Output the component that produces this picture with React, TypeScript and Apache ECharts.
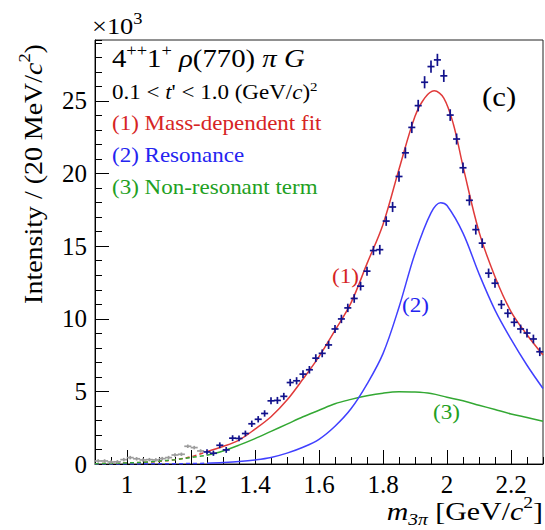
import React, { useEffect, useRef } from "react";
import * as echarts from "echarts";

// ---------- data (intensity in units of 10^3 per 20 MeV/c^2) ----------
const grayX = [0.91, 0.93, 0.95, 0.97, 0.99, 1.01, 1.03, 1.05, 1.07, 1.09, 1.11, 1.13, 1.15, 1.17, 1.19, 1.21, 1.23];
const grayY = [0.21, 0.21, 0.14, 0.15, 0.3, 0.44, 0.36, 0.28, 0.3, 0.28, 0.37, 0.44, 0.62, 0.67, 1.22, 1.13, 0.9];
const grayErr = [0.12, 0.12, 0.12, 0.12, 0.12, 0.12, 0.12, 0.12, 0.12, 0.12, 0.12, 0.12, 0.12, 0.12, 0.12, 0.12, 0.12];

const ptX = [
  1.25, 1.27, 1.29, 1.31, 1.33, 1.35, 1.37, 1.39, 1.41, 1.43, 1.45, 1.47, 1.49,
  1.51, 1.53, 1.55, 1.57, 1.59, 1.61, 1.63, 1.65, 1.67, 1.69,
  1.71, 1.73, 1.75, 1.77, 1.79, 1.81, 1.83, 1.85, 1.87, 1.89,
  1.91, 1.93, 1.95, 1.97, 1.99, 2.01, 2.03, 2.05, 2.07, 2.09,
  2.11, 2.13, 2.15, 2.17, 2.19, 2.21, 2.23, 2.25, 2.27, 2.29,
];
const ptY = [
  0.83, 0.74, 1.29, 0.97, 1.78, 1.76, 2.1, 2.77, 3.08, 3.48, 4.35, 4.38, 4.66,
  5.61, 5.73, 6.19, 6.49, 7.29, 7.62, 8.2, 9.3, 9.99, 10.75,
  11.4, 12.25, 13.28, 14.7, 14.76, 16.73, 17.7, 19.8, 21.43, 23.18,
  24.68, 26.29, 27.37, 27.83, 26.73, 24.03, 22.38, 20.4, 18.16, 16.14,
  15.21, 13.14, 12.45, 10.98, 10.38, 9.76, 9.3, 9.02, 8.61, 7.73,
];
const ptErr = [
  0.18, 0.18, 0.2, 0.2, 0.2, 0.2, 0.2, 0.22, 0.22, 0.22, 0.24, 0.24, 0.24,
  0.25, 0.25, 0.26, 0.26, 0.27, 0.27, 0.28, 0.28, 0.29, 0.29,
  0.3, 0.3, 0.31, 0.32, 0.33, 0.33, 0.35, 0.36, 0.38, 0.39,
  0.4, 0.42, 0.42, 0.42, 0.42, 0.4, 0.38, 0.37, 0.36, 0.34,
  0.33, 0.32, 0.31, 0.31, 0.3, 0.3, 0.3, 0.3, 0.3, 0.3,
];

// (1) mass-dependent fit
const fitX = [1.25, 1.3, 1.35, 1.4, 1.45, 1.5, 1.55, 1.6, 1.65, 1.7, 1.75, 1.8, 1.85, 1.9, 1.93, 1.96, 1.99, 2.02, 2.05, 2.1, 2.15, 2.2, 2.25, 2.3];
const fitY = [0.85, 1.2, 1.65, 2.4, 3.25, 4.4, 5.85, 7.4, 9.2, 11.1, 13.8, 16.5, 20.3, 23.95, 25.2, 25.7, 25.2, 23.4, 20.5, 16.0, 12.9, 10.5, 8.9, 7.5];
const fitExtX = [0.9, 0.95, 1.0, 1.05, 1.1, 1.15, 1.2, 1.25];
const fitExtY = [0.02, 0.04, 0.07, 0.11, 0.18, 0.3, 0.5, 0.85];

// (2) resonance
const resX = [1.25, 1.3, 1.35, 1.4, 1.45, 1.5, 1.55, 1.6, 1.65, 1.7, 1.75, 1.8, 1.85, 1.9, 1.95, 1.98, 2.0, 2.05, 2.1, 2.15, 2.2, 2.25, 2.3];
const resY = [0.05, 0.1, 0.17, 0.28, 0.45, 0.75, 1.15, 1.7, 2.6, 3.8, 5.5, 7.6, 10.8, 14.5, 17.3, 18.0, 17.8, 15.9, 13.1, 10.6, 8.6, 6.8, 5.2];
const resExtX = [0.9, 0.95, 1.0, 1.05, 1.1, 1.15, 1.2, 1.25];
const resExtY = [0, 0, 0, 0.01, 0.01, 0.02, 0.03, 0.05];

// (3) non-resonant term
const nrX = [1.25, 1.3, 1.35, 1.4, 1.45, 1.5, 1.55, 1.6, 1.65, 1.7, 1.75, 1.8, 1.85, 1.9, 1.95, 2.0, 2.05, 2.1, 2.15, 2.2, 2.25, 2.3];
const nrY = [0.6, 0.9, 1.3, 1.75, 2.25, 2.75, 3.25, 3.7, 4.15, 4.45, 4.7, 4.88, 4.97, 4.95, 4.85, 4.6, 4.35, 4.05, 3.75, 3.45, 3.2, 2.95];
const nrExtX = [0.9, 0.95, 1.0, 1.05, 1.1, 1.15, 1.2, 1.25];
const nrExtY = [0.02, 0.04, 0.07, 0.12, 0.2, 0.3, 0.45, 0.6];

const xMajorTicks = [1, 1.2, 1.4, 1.6, 1.8, 2, 2.2];

// ---------- styling ----------
const SERIF = "Liberation Serif";
const RED = "#e03a3a";
const BLUE = "#4040ff";
const GREEN = "#33a833";
const RED_T = "#d62424";
const BLUE_T = "#2424f0";
const GREEN_T = "#22a022";
const NAVY = "#12128c";
const GRAY = "#9c9c9c";

const zip = (xs: number[], ys: number[]) => xs.map((x, i) => [x, ys[i]]);
const zip3 = (xs: number[], ys: number[], es: number[]) => xs.map((x, i) => [x, ys[i], es[i]]);

function errRender(color: string) {
  return (params: any, api: any) => {
    const x = api.value(0);
    const y = api.value(1);
    const e = api.value(2);
    const c = api.coord([x, y]);
    const l = api.coord([x - 0.011, y]);
    const r = api.coord([x + 0.011, y]);
    const t = api.coord([x, y + e]);
    const b = api.coord([x, y - e]);
    return {
      type: "group",
      children: [
        { type: "line", shape: { x1: l[0], y1: c[1], x2: r[0], y2: c[1] }, style: { stroke: color, lineWidth: 1.7 } },
        { type: "line", shape: { x1: c[0], y1: t[1], x2: c[0], y2: b[1] }, style: { stroke: color, lineWidth: 1.7 } },
      ],
    };
  };
}

function rich(size: number, color: string, supSize?: number) {
  const lh = Math.round(size * 1.3);
  const s = supSize || Math.round(size * 0.66);
  return {
    n: { fontSize: size, fontFamily: SERIF, fontStyle: "normal", fontWeight: "normal", fill: color, lineHeight: lh },
    i: { fontSize: size, fontFamily: SERIF, fontStyle: "italic", fontWeight: "normal", fill: color, lineHeight: lh },
    s: { fontSize: s, fontFamily: SERIF, fontStyle: "normal", fontWeight: "normal", fill: color, lineHeight: s, verticalAlign: "top" },
    b: { fontSize: s, fontFamily: SERIF, fontStyle: "italic", fontWeight: "normal", fill: color, lineHeight: s, verticalAlign: "bottom" },
  };
}

function txt(x: number, y: number, text: string, size: number, color: string, extra: any = {}) {
  return {
    type: "text",
    x,
    y,
    scaleX: extra.scaleX ?? 1.15,
    rotation: extra.rotation ?? 0,
    style: {
      text,
      rich: rich(size, color, extra.supSize),
      fontFamily: SERIF,
      fontSize: size,
      fontWeight: "normal",
      align: extra.align ?? "left",
      verticalAlign: "middle",
      fill: color,
    },
    z: 100,
  };
}

export default function App() {
  const ref = useRef<HTMLDivElement>(null);
  useEffect(() => {
    const chart = echarts.init(ref.current!, null, { renderer: "svg" });
    const curve = (data: number[][], color: string, dashed: boolean) => ({
      type: "line",
      data,
      smooth: 0.35,
      showSymbol: false,
      symbol: "none",
      lineStyle: { color, width: 1.5, type: dashed ? [4, 3] : "solid" },
      z: 3,
      silent: true,
    });
    const axisLabelFont = { fontFamily: SERIF, fontSize: 25, color: "#000", fontWeight: "normal" };
    const option: any = {
      animation: false,
      backgroundColor: "#ffffff",
      textStyle: { fontFamily: SERIF },
      grid: { left: 95, right: 2, top: 40, bottom: 66, show: true, borderColor: "#222", borderWidth: 1 },
      xAxis: [
        {
          type: "value",
          min: 0.9,
          max: 2.3,
          position: "bottom",
          axisLine: { show: true, lineStyle: { color: "#000", width: 1 } },
          axisTick: { show: true, inside: true, length: 14, customValues: xMajorTicks, lineStyle: { color: "#000" } },
          axisLabel: { customValues: xMajorTicks, margin: 8, ...axisLabelFont },
          splitLine: { show: false },
        },
        {
          type: "value",
          min: 0.9,
          max: 2.3,
          interval: 0.05,
          position: "bottom",
          axisLine: { show: false },
          axisTick: { show: true, inside: true, length: 7, lineStyle: { color: "#000" } },
          axisLabel: { show: false },
          splitLine: { show: false },
        },
      ],
      yAxis: [
        {
          type: "value",
          min: 0,
          max: 29.2,
          interval: 5,
          position: "left",
          axisLine: { show: true, lineStyle: { color: "#000", width: 1 } },
          axisTick: { show: true, inside: true, length: 14, lineStyle: { color: "#000" } },
          axisLabel: { margin: 8, showMaxLabel: false, ...axisLabelFont },
          splitLine: { show: false },
        },
        {
          type: "value",
          min: 0,
          max: 29.2,
          interval: 1,
          position: "left",
          axisLine: { show: false },
          axisTick: { show: true, inside: true, length: 7, lineStyle: { color: "#000" } },
          axisLabel: { show: false },
          splitLine: { show: false },
        },
      ],
      series: [
        curve(zip(fitExtX, fitExtY), RED, true),
        curve(zip(resExtX, resExtY), BLUE, true),
        curve(zip(nrExtX, nrExtY), GREEN, true),
        curve(zip(nrX, nrY), GREEN, false),
        curve(zip(resX, resY), BLUE, false),
        curve(zip(fitX, fitY), RED, false),
        {
          type: "custom",
          data: zip3(grayX, grayY, grayErr),
          encode: { x: 0, y: 1 },
          renderItem: errRender(GRAY),
          z: 4,
          silent: true,
        },
        {
          type: "custom",
          data: zip3(ptX, ptY, ptErr),
          encode: { x: 0, y: 1 },
          renderItem: errRender(NAVY),
          z: 5,
          silent: true,
        },
      ],
      graphic: [
        txt(92, 26, "{n|×10}{s|3}", 23, "#000", { supSize: 16 }),
        txt(33, 174, "{n|Intensity / (20 MeV/}{i|c}{s|2}{n|)}", 26, "#000", { rotation: Math.PI / 2, align: "center", scaleX: 1.075, supSize: 17 }),
        txt(543, 511, "{i|m}{b|3π}{n| [GeV/}{i|c}{s|2}{n|]}", 26, "#000", { align: "right", scaleX: 1.15, supSize: 17 }),
        txt(112, 59, "{n|4}{s|++}{n|1}{s|+}{n| }{i|ρ}{n|(770) }{i|π G}", 25, "#000", { supSize: 16 }),
        txt(112, 93, "{n|0.1 < }{i|t}{n|' < 1.0 (GeV/}{i|c}{n|)}{s|2}", 20, "#000", { supSize: 13 }),
        txt(112, 124, "{n|(1) Mass-dependent fit}", 20, RED_T),
        txt(112, 156, "{n|(2) Resonance}", 20, BLUE_T),
        txt(112, 188, "{n|(3) Non-resonant term}", 20, GREEN_T),
        txt(482, 96, "{n|(c)}", 28, "#000", { scaleX: 1.1 }),
        txt(332, 276, "{n|(1)}", 21, RED_T, { scaleX: 1.1 }),
        txt(402, 305, "{n|(2)}", 21, BLUE_T, { scaleX: 1.1 }),
        txt(433, 412, "{n|(3)}", 21, GREEN_T, { scaleX: 1.1 }),
      ],
    };
    chart.setOption(option);
    return () => chart.dispose();
  }, []);
  return (
    <div
      ref={ref}
      style={{ position: "absolute", left: 0, top: 0, width: 545, height: 530, background: "#fff" }}
    />
  );
}
